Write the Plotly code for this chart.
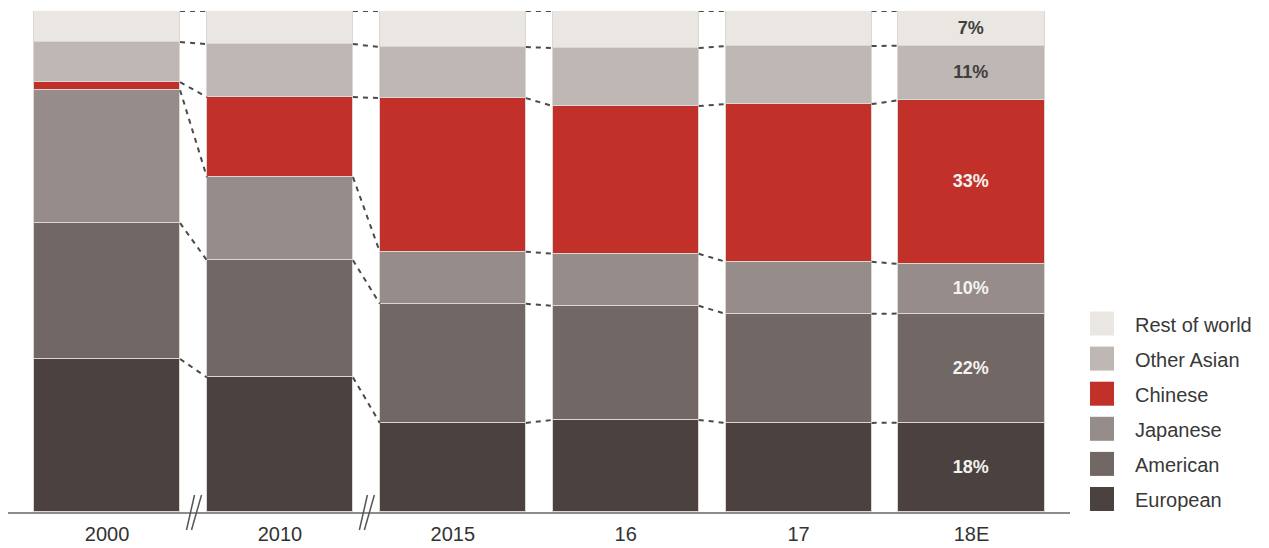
import plotly.graph_objects as go

# ---------------- data ----------------
categories = ["2000", "2010", "2015", "16", "17", "18E"]
series_names = ["European", "American", "Japanese", "Chinese", "Other Asian", "Rest of world"]
european = [30.5, 26.9, 17.8, 18.4, 17.8, 18]
american = [27.1, 23.4, 23.8, 22.8, 21.8, 22]
japanese = [26.5, 16.6, 10.4, 10.4, 10.4, 10]
chinese = [1.6, 16.0, 30.7, 29.5, 31.5, 33]
other_asian = [8.0, 10.6, 10.2, 11.6, 11.6, 11]
rest_of_world = [6.2, 6.6, 7.2, 7.4, 7.0, 7]
labelled_index = 5  # only the last bar carries value labels

# ---------------- styles ----------------
series_values = [european, american, japanese, chinese, other_asian, rest_of_world]
colors = ["#4b423f", "#716865", "#968d8a", "#c1312a", "#bfb7b3", "#eae6e2"]
label_colors = ["#f4f2f0", "#f4f2f0", "#f4f2f0", "#f4f2f0", "#3f3f3f", "#3f3f3f"]
bar_width = 0.845
W, H = 1269, 548
ML, MR, MT, MB = 8, 199, 11, 36
FONT = "Liberation Sans, Arial, sans-serif"

xs = list(range(len(categories)))
totals = [sum(v[i] for v in series_values) for i in xs]

fig = go.Figure()
for name, vals, col, lcol in zip(series_names, series_values, colors, label_colors):
    text = [f"{v:g}%" if i == labelled_index else "" for i, v in enumerate(vals)]
    fig.add_trace(go.Bar(
        x=xs, y=vals, name=name, width=bar_width,
        marker=dict(color=col, line=dict(color="#dcd7d3", width=1.5)),
        text=text, textposition="inside", insidetextanchor="middle",
        textangle=0, constraintext="none",
        textfont=dict(family=FONT, size=18, color=lcol, weight="bold"),
        showlegend=False, hoverinfo="skip",
    ))

# dashed connectors between cumulative boundaries of neighbouring bars
cum = [[0.0] * len(xs)]
for vals in series_values:
    cum.append([cum[-1][i] + vals[i] / totals[i] * 100 for i in xs])
for level in cum[1:]:
    cx, cy = [], []
    for i in xs[:-1]:
        cx += [i + bar_width / 2, i + 1 - bar_width / 2, None]
        cy += [level[i], level[i + 1], None]
    fig.add_trace(go.Scatter(
        x=cx, y=cy, mode="lines", showlegend=False, hoverinfo="skip",
        line=dict(color="#4a4a4a", width=2, dash="5px,5px"),
    ))

plot_w = W - ML - MR
plot_h = H - MT - MB


def px_x(px):
    return (px - ML) / plot_w


def px_y(py):
    return (H - MB - py) / plot_h


shapes = []
# axis break marks between 2000|2010 and 2010|2015
px_unit = 1 / ((W - ML - MR) / (len(categories) - 1 + 2 * 0.573))
for mid in (0.5, 1.5):
    for dx0, dx1 in ((-7, 1), (-2, 8)):
        shapes.append(dict(type="line", xref="x", yref="paper",
                           x0=mid + dx0 * px_unit, x1=mid + dx1 * px_unit,
                           y0=px_y(530), y1=px_y(495),
                           line=dict(color="#555555", width=1.5)))

# manual legend (large square keys)
annotations = []
legend_order = list(reversed(range(len(series_names))))
for k, idx in enumerate(legend_order):
    cy = 323.5 + k * 35.1
    shapes.append(dict(type="rect", xref="paper", yref="paper",
                       x0=px_x(1090), x1=px_x(1114),
                       y0=px_y(cy + 12), y1=px_y(cy - 12),
                       fillcolor=colors[idx], line=dict(width=0)))
    annotations.append(dict(xref="paper", yref="paper", x=px_x(1133), y=px_y(cy + 1),
                            xanchor="left", yanchor="middle", showarrow=False,
                            text=series_names[idx],
                            font=dict(family=FONT, size=20, color="#383838")))

fig.update_layout(
    width=W, height=H,
    margin=dict(l=ML, r=MR, t=MT, b=MB, autoexpand=False),
    barmode="stack", barnorm="percent", bargap=0,
    plot_bgcolor="white", paper_bgcolor="white",
    shapes=shapes, annotations=annotations,
    xaxis=dict(range=[-0.573, len(categories) - 1 + 0.57], tickvals=xs, ticktext=categories,
               showgrid=False, zeroline=False, showline=True, linecolor="#8c8c8c",
               linewidth=2, ticks="", ticklabelstandoff=3,
               tickfont=dict(family=FONT, size=20, color="#333333")),
    yaxis=dict(range=[0, 100], visible=False, showgrid=False, zeroline=False),
    showlegend=False,
)

fig.write_html("out.html")
